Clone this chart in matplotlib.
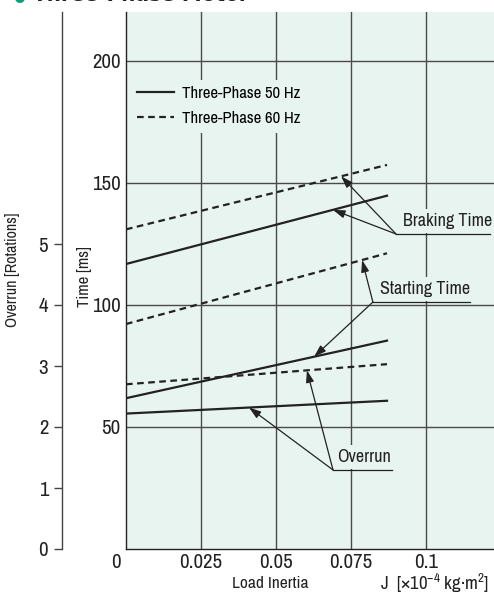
# -*- coding: utf-8 -*-
"""
Load inertia vs. starting/braking time and overrun, three-phase motor.
"""
import numpy as np
import matplotlib.pyplot as plt

# data (lines are straight, two end points each)
load_inertia = [0.0, 0.087]          # J [x10^-4 kg m^2]
braking_50 = [116.8, 144.8]          # ms
braking_60 = [131.0, 157.4]
starting_50 = [61.8, 85.4]
starting_60 = [92.2, 121.2]
overrun_50 = [2.22, 2.43]            # rotations
overrun_60 = [2.70, 3.03]

x_ticks = [0.025, 0.05, 0.075, 0.1]
x_tick_labels = ['0.025', '0.05', '0.075', '0.1']
time_ticks = [50, 100, 150, 200]
rot_ticks = [0, 1, 2, 3, 4, 5]

# narrow grotesk like the original, DejaVu for the odd glyph
plt.rcParams['font.family'] = ['Archivo Narrow', 'DejaVu Sans']
plt.rcParams['font.stretch'] = 'condensed'
plt.rcParams['mathtext.fontset'] = 'custom'
plt.rcParams['mathtext.rm'] = 'Archivo Narrow'
plt.rcParams['mathtext.it'] = 'Archivo Narrow'

bg = '#e8f4ef'
ink = '#222222'
grid_c = '#4a4a4a'

fig = plt.figure(figsize=(4.94, 5.94), dpi=100)
ax = fig.add_axes([126/494, 45/594, 368/494, 537/594])
ax.set_facecolor(bg)
ax.set_xlim(0, 368/3000)
ax.set_ylim(0, 537/2.44)
ax.set_axisbelow(True)

for s in ['top', 'right']:
    ax.spines[s].set_visible(False)
for s in ['left', 'bottom']:
    ax.spines[s].set_color(ink)
    ax.spines[s].set_linewidth(1.0)

ax.set_xticks(x_ticks)
ax.set_xticklabels(x_tick_labels)
ax.set_yticks(time_ticks)
ax.tick_params(axis='both', length=0, labelsize=15, colors=ink)
ax.tick_params(axis='y', pad=4)
ax.tick_params(axis='x', pad=3)
ax.grid(True, color=grid_c, lw=1.0)

# overrun axis, further out on the left
ax2 = ax.twinx()
ax2.set_ylim(0, 537/2.44/25)
for s in ['top', 'right', 'bottom']:
    ax2.spines[s].set_visible(False)
ax2.spines['left'].set_visible(True)
ax2.spines['left'].set_position(('outward', 46))
ax2.spines['left'].set_color('#444444')
ax2.spines['left'].set_linewidth(1.0)
ax2.yaxis.set_ticks_position('left')
ax2.yaxis.set_label_position('left')
ax2.set_yticks(rot_ticks)
ax2.tick_params(axis='y', direction='out', length=6, width=1, color='#444444',
                pad=4, labelsize=15, labelcolor=ink)

# curves
kw = dict(color=ink, lw=1.6)
dash = dict(color=ink, lw=1.6, dashes=(3, 2))
ax.plot(load_inertia, braking_50, **kw, label='Three-Phase 50 Hz')
ax.plot(load_inertia, braking_60, **dash, label='Three-Phase 60 Hz')
ax.plot(load_inertia, starting_50, **kw)
ax.plot(load_inertia, starting_60, **dash)
ax2.plot(load_inertia, overrun_50, **kw)
ax2.plot(load_inertia, overrun_60, **dash)

leg = ax.legend(loc='upper left', bbox_to_anchor=(0.013, 0.874), borderaxespad=0,
                fontsize=12, handlelength=2.2, handletextpad=0.45, labelspacing=0.6,
                frameon=True, facecolor=bg, edgecolor='none', framealpha=1)
leg.get_frame().set_boxstyle('square', pad=0)

# callouts: label, underline start/end, text x, arrow targets
def callout(text, x0, x1, y, tx, targets):
    ax.text(tx, y + 2.0, text, fontsize=13, color=ink, ha='left', va='bottom', zorder=4,
            bbox=dict(facecolor=bg, edgecolor='none', pad=3))
    ax.plot([x0, x1], [y, y], color=ink, lw=0.9, zorder=4)
    for (tax, xt, series) in targets:
        yt = np.interp(xt, load_inertia, series)
        ax.annotate('', xy=(xt, yt), xycoords=tax.transData,
                    xytext=(x0, y), textcoords=ax.transData,
                    arrowprops=dict(arrowstyle='-|>,head_length=0.6,head_width=0.2',
                                    lw=0.9, color=ink,
                                    mutation_scale=12, shrinkA=0, shrinkB=0),
                    zorder=5)

callout('Braking Time', 0.0900, 0.1213, 129.1, 0.0923,
        [(ax, 0.0717, braking_60), (ax, 0.0690, braking_50)])
callout('Starting Time', 0.0823, 0.1147, 101.2, 0.0847,
        [(ax, 0.0787, starting_60), (ax, 0.0627, starting_50)])
callout('Overrun', 0.0690, 0.0887, 32.4, 0.0703,
        [(ax2, 0.0603, overrun_60), (ax2, 0.0410, overrun_50)])

# shared origin label and axis titles
ax.annotate('0', xy=(0, 0), xytext=(-10, -14), textcoords='offset pixels',
            ha='center', va='center', fontsize=15, color=ink)
fig.text(85/494, 1 - 277/594, 'Time [ms]', rotation=90, ha='center', va='center',
         fontsize=12, color=ink)
fig.text(12/494, 1 - 270/594, 'Overrun [Rotations]', rotation=90, ha='center', va='center',
         fontsize=11.5, color=ink)
fig.text(270/494, 1 - 583/594, 'Load Inertia', ha='center', va='center',
         fontsize=12.5, color=ink)
fig.text(489/494, 1 - 583/594, r'J  [$\times$10$^{-4}$ kg·m$^{2}$]', ha='right', va='center',
         fontsize=13.5, color=ink)

# title, mostly above the visible area
fig.text(13/494, 1 - 1/594, '●', color='#00a27a', fontsize=11, va='baseline', ha='left',
         family='DejaVu Sans')
fig.text(33/494, 1 - 1/594, 'Three-Phase Motor', fontsize=16, weight='bold',
         family='DejaVu Sans', stretch='condensed', color=ink, va='baseline', ha='left')

fig.savefig('out.png', dpi=100)
